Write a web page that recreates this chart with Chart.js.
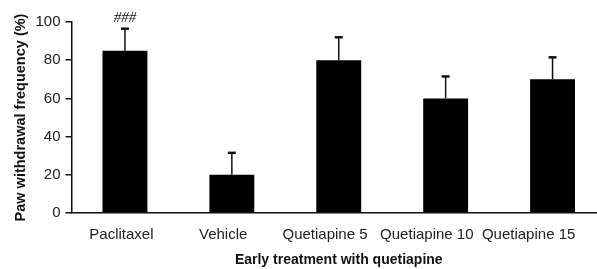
<!DOCTYPE html>
<html>
<head>
<meta charset="utf-8">
<script src="https://cdn.jsdelivr.net/npm/chart.js@4"></script>
<style>
  html, body { margin: 0; padding: 0; background: #fff; overflow: hidden; }
  #wrap { width: 597px; height: 269px; overflow: hidden; }
</style>
</head>
<body>
<div id="wrap"><canvas id="barChart" width="606" height="269"></canvas></div>
<script>
// values
const groups = ["Paclitaxel", "Vehicle", "Quetiapine 5", "Quetiapine 10", "Quetiapine 15"];
const frequency = [85, 20, 80, 60, 70];
const sem = [11.5, 11.5, 12, 11.5, 11.5];
const marks = ["###", "", "", "", ""];
const yTicks = [0, 20, 40, 60, 80, 100];

const FONT = "'Liberation Sans', Arial, sans-serif";

// upper error bars + significance marks
const errorBars = {
  id: "errorBars",
  afterDatasetsDraw(chart) {
    const ctx = chart.ctx;
    const x = chart.scales.x;
    const y = chart.scales.y;
    ctx.save();
    ctx.strokeStyle = "#111";
    frequency.forEach((v, i) => {
      const px = x.getPixelForValue(i);
      const yBar = y.getPixelForValue(v);
      const yTop = y.getPixelForValue(v + sem[i]);
      ctx.lineWidth = 1.5;
      ctx.beginPath();
      ctx.moveTo(px, yBar);
      ctx.lineTo(px, yTop);
      ctx.stroke();
      ctx.lineWidth = 2.5;
      ctx.beginPath();
      ctx.moveTo(px - 4, yTop);
      ctx.lineTo(px + 4, yTop);
      ctx.stroke();
      if (marks[i]) {
        ctx.fillStyle = "#111";
        ctx.font = "italic 15px 'Liberation Serif', 'Times New Roman', serif";
        ctx.textAlign = "center";
        ctx.textBaseline = "middle";
        ctx.fillText(marks[i], px, yTop - 11);
      }
    });
    ctx.restore();
  }
};

new Chart(document.getElementById("barChart").getContext("2d"), {
  type: "bar",
  data: {
    labels: groups,
    datasets: [{
      label: "Paw withdrawal frequency",
      data: frequency,
      backgroundColor: "#000",
      borderWidth: 0,
      categoryPercentage: 1,
      barPercentage: 0.42
    }]
  },
  options: {
    responsive: false,
    animation: false,
    devicePixelRatio: 1,
    layout: { padding: { top: 22, right: 0, bottom: 0, left: 0 } },
    plugins: { legend: { display: false }, tooltip: { enabled: false } },
    scales: {
      x: {
        type: "category",
        position: "bottom",
        grid: { display: false, drawTicks: false },
        border: { display: true, color: "#111", width: 1.5 },
        ticks: { display: false },
        afterFit: s => { s.height = 0; }
      },
      // second bottom axis only carries the group names, which sit a bit left of the bars in the figure
      x2: {
        type: "linear",
        position: "bottom",
        offset: false,
        min: -0.49,
        max: 4.76,
        grid: { display: false, drawTicks: false, offset: false },
        border: { display: false },
        afterBuildTicks: s => { s.ticks = groups.map((g, i) => ({ value: i })); },
        ticks: {
          autoSkip: false,
          maxRotation: 0,
          padding: 13,
          color: "#222",
          font: { family: FONT, size: 15 },
          callback: (v, i) => groups[i]
        },
        title: {
          display: true,
          text: "Early treatment with quetiapine",
          color: "#111",
          font: { family: FONT, size: 14, weight: "bold" },
          padding: { top: 0, bottom: 0 }
        },
        afterFit: s => { s.height = 56; }
      },
      y: {
        min: 0,
        max: 100,
        afterBuildTicks: s => { s.ticks = yTicks.map(v => ({ value: v })); },
        grid: { display: true, drawOnChartArea: false, drawTicks: true, tickLength: 6, color: "#111", lineWidth: 1.5 },
        border: { display: true, color: "#111", width: 1.5 },
        ticks: { padding: 5, color: "#222", font: { family: FONT, size: 15 } },
        title: {
          display: true,
          text: "Paw withdrawal frequency (%)",
          color: "#111",
          font: { family: FONT, size: 14.5, weight: "bold" },
          padding: { top: 12.5, bottom: 0 }
        },
        afterFit: s => { s.width = 71.5; }
      }
    }
  },
  plugins: [errorBars]
});
</script>
</body>
</html>
